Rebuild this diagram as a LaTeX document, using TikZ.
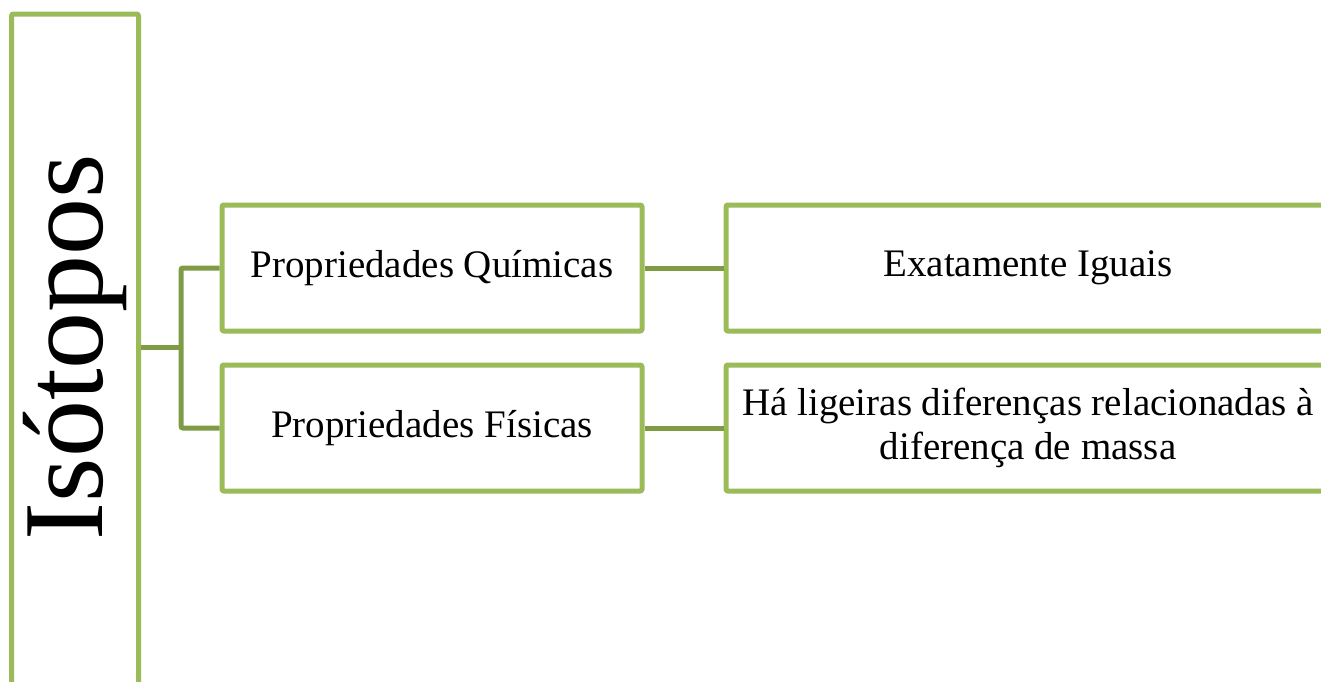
\documentclass[tikz,border=0pt]{standalone}
\usepackage{fontspec}
\setmainfont{Liberation Serif}
\usepackage{xcolor}
\definecolor{BoxGreen}{HTML}{9BBB59}
\definecolor{LinkGreen}{HTML}{7F9B46}

\begin{document}
\begin{tikzpicture}[
	x=1pt, y=-1pt, % one unit is one pixel of the page, y runs down
	% Style for the green boxes
	box/.style={
		rectangle,
		rounded corners=2pt,
		draw=BoxGreen,        % Box border color
		fill=white,
		text=black,
		line width=5pt,
		minimum height=126pt,
		align=center,
		font=\fontsize{39}{44}\selectfont
	},
	% Style for the tall title box
	title box/.style={
		box,
		rotate=90,
		minimum width=700pt,
		minimum height=127pt
	},
	% Style for the big rotated title
	title/.style={
		rotate=90,
		text=black,
		font=\fontsize{114}{120}\selectfont
	},
	% Style for the connecting lines
	link/.style={
		draw=LinkGreen,       % A bit darker than the boxes
		line width=5pt,
		rounded corners=2pt
	}
	]
	
	\useasboundingbox (0,0) rectangle (1321,681);
	\clip (0,0) rectangle (1321,681);
	
	% 1. Boxes
	\node[title box] (iso) at (75,364) {};
	\node[title] (isolabel) at (75,347) {Isótopos};
	\node[box, minimum width=420pt] (quim) at (432,268) {Propriedades Químicas};
	\node[box, minimum width=420pt] (fis) at (432,428) {Propriedades Físicas};
	\node[box, minimum width=604pt] (iguais) at (1028,268) {Exatamente Iguais};
	\node[box, minimum width=604pt] (massa) at (1028,428) {Há ligeiras diferenças relacionadas à\\diferença de massa};
	
	% 2. Connectors
	\draw[link] (iso.south |- isolabel) -- ++(40,0) coordinate (fork);
	\draw[link] (fork) |- (quim.west);
	\draw[link] (fork) |- (fis.west);
	
	\draw[link] (quim) -- (iguais);
	\draw[link] (fis) -- (massa);
	
\end{tikzpicture}
\end{document}
